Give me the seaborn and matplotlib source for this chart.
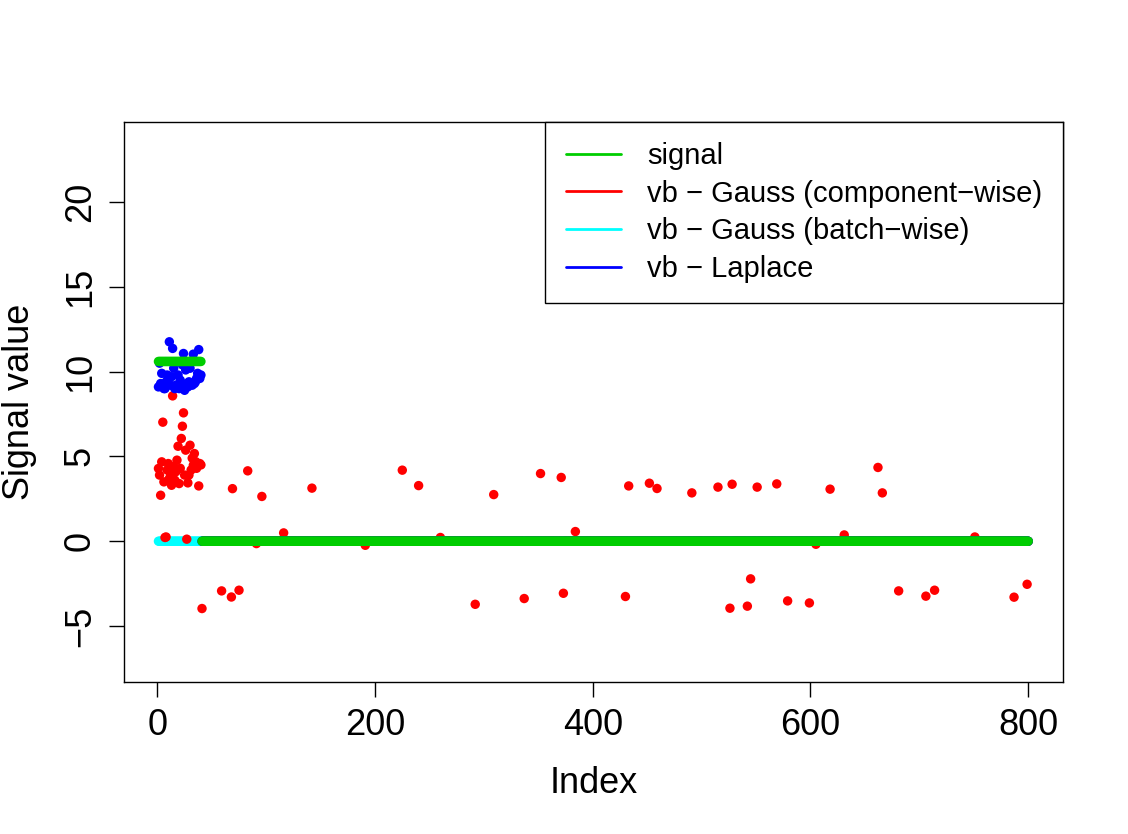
import matplotlib
matplotlib.use("Agg")
import matplotlib.pyplot as plt
from matplotlib.lines import Line2D
import numpy as np
import pandas as pd
import seaborn as sns

N = 800
N_ACTIVE = 40

# true signal: first 40 components active
signal_level = 10.6

# vb - Laplace estimates for the active block (rest are 0)
laplace_active = [
    9.1, 10.5, 9.3, 9.9, 9.2, 9.0, 9.0, 9.4, 9.8, 9.3,
    11.76, 9.2, 9.7, 11.37, 10.2, 9.0, 9.2, 9.1, 9.8, 9.0,
    9.5, 9.3, 10.4, 11.07, 8.9, 10.1, 9.2, 9.1, 9.4, 10.2,
    9.3, 9.2, 11.03, 9.3, 9.4, 9.6, 9.9, 11.3, 9.6, 9.8,
]

# vb - Gauss (component-wise) estimates for the active block
gauss_cw_active = [
    4.29, 3.9, 2.71, 4.68, 7.02, 3.5, 0.22, 0.25, 4.2, 4.58,
    3.7, 4.0, 3.3, 8.57, 4.4, 3.6, 4.1, 4.78, 5.6, 3.4,
    4.3, 6.06, 6.78, 7.57, 3.9, 5.37, 0.12, 3.44, 3.9, 5.66,
    4.2, 4.9, 4.48, 5.17, 4.7, 4.3, 4.6, 3.26, 4.58, 4.5,
]

# vb - Gauss (component-wise) spurious values outside the active block
gauss_cw_idx = [
    41, 59, 68, 69, 75, 83, 91, 96, 116, 142, 191, 225, 240, 260, 292,
    309, 337, 352, 371, 373, 384, 430, 433, 452, 459, 491, 515, 526, 528,
    542, 545, 551, 569, 579, 599, 605, 618, 631, 662, 666, 681, 706, 714,
    751, 787, 799,
]
gauss_cw_val = [
    -3.97, -2.93, -3.29, 3.1, -2.89, 4.15, -0.14, 2.64, 0.49, 3.13, -0.24,
    4.19, 3.28, 0.22, -3.72, 2.75, -3.38, 3.99, 3.76, -3.07, 0.57, -3.26,
    3.26, 3.42, 3.11, 2.85, 3.19, -3.95, 3.36, -3.83, -2.22, 3.19, 3.38,
    -3.52, -3.64, -0.18, 3.07, 0.37, 4.35, 2.85, -2.93, -3.24, -2.89, 0.25,
    -3.30, -2.54,
]

labels = [
    "signal",
    "vb \u2212 Gauss (component\u2212wise)",
    "vb \u2212 Gauss (batch\u2212wise)",
    "vb \u2212 Laplace",
]
colors = ["#00CD00", "#FF0000", "#00FFFF", "#0000FF"]


def main():
    index = np.arange(1, N + 1)

    signal = np.zeros(N)
    signal[:N_ACTIVE] = signal_level

    laplace = np.zeros(N)
    laplace[:N_ACTIVE] = laplace_active

    gauss_cw = np.zeros(N)
    gauss_cw[:N_ACTIVE] = gauss_cw_active
    gauss_cw[np.array(gauss_cw_idx) - 1] = gauss_cw_val

    gauss_bw = np.zeros(N)

    # draw order: batch-wise, component-wise, Laplace, signal on top
    parts = [
        (labels[2], gauss_bw),
        (labels[1], gauss_cw),
        (labels[3], laplace),
        (labels[0], signal),
    ]
    df = pd.concat(
        [pd.DataFrame({"Index": index, "value": v, "series": name}) for name, v in parts],
        ignore_index=True,
    )

    sns.set_theme(style="white")
    plt.rcParams["font.family"] = ["Liberation Sans", "DejaVu Sans"]
    plt.rcParams["axes.unicode_minus"] = True
    plt.rcParams["text.color"] = "black"
    plt.rcParams["axes.labelcolor"] = "black"

    fig = plt.figure(figsize=(11.28, 8.34), dpi=100)
    ax = fig.add_axes([0.1096, 0.1823, 0.9424 - 0.1096, 0.8543 - 0.1823])

    sns.scatterplot(
        data=df,
        x="Index",
        y="value",
        hue="series",
        palette=dict(zip(labels, colors)),
        s=46,
        linewidth=0,
        legend=False,
        ax=ax,
    )

    ax.set_xlim(-31, 832)
    ax.set_ylim(-8.3, 24.75)
    ax.set_xticks([0, 200, 400, 600, 800])
    ax.set_yticks([-5, 0, 5, 10, 15, 20])

    for sp in ax.spines.values():
        sp.set_visible(True)
        sp.set_color("black")
        sp.set_linewidth(1.0)

    ax.tick_params(axis="both", direction="out", length=10.5, width=1.0,
                   color="black", labelsize=26, pad=8, labelcolor="black")
    ax.tick_params(axis="both", bottom=True, left=True)
    ax.tick_params(axis="y", labelrotation=90)
    for t in ax.get_yticklabels():
        t.set_verticalalignment("center")

    ax.set_xlabel("Index", fontsize=26, labelpad=17, color="black")
    ax.set_ylabel("Signal value", fontsize=26, labelpad=19, color="black")

    handles = [Line2D([0], [0], color=c, lw=2.0) for c in colors]
    leg = ax.legend(
        handles,
        labels,
        loc="upper right",
        fontsize=21,
        frameon=True,
        fancybox=False,
        framealpha=1,
        edgecolor="black",
        borderaxespad=0,
        borderpad=0.7,
        labelspacing=0.33,
        handlelength=1.9,
        handletextpad=0.9,
    )
    leg.get_frame().set_linewidth(1.0)
    for t in leg.get_texts():
        t.set_color("black")

    fig.savefig("out.png", dpi=100)
    plt.close(fig)


if __name__ == "__main__":
    main()
